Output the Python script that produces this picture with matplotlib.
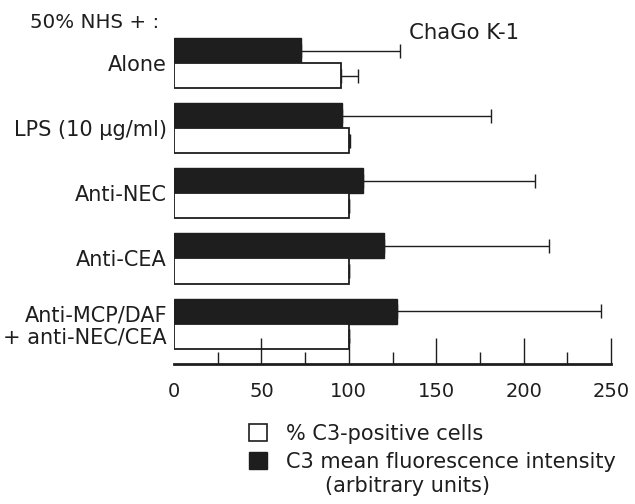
import numpy as np
import matplotlib.pyplot as plt
from matplotlib.patches import Patch

# values
categories = ['Alone', 'LPS (10 μg/ml)', 'Anti-NEC', 'Anti-CEA',
              'Anti-MCP/DAF\n+ anti-NEC/CEA']
pct_pos = [95.6, 100, 100, 100, 100]          # % C3-positive cells
pct_err = [9.5, 0.7, 0, 0, 0]
mfi = [72.9, 96.3, 108.3, 120.4, 127.8]       # C3 mean fluorescence intensity
mfi_err = [56.3, 85.0, 98.2, 94.0, 116.6]
major_ticks = [0, 50, 100, 150, 200, 250]
minor_ticks = [25, 75, 125, 175, 225]

ink = '#1e1e1e'
W, H = 635, 504

fig = plt.figure(figsize=(W / 100, H / 100), dpi=100)
ax = fig.add_axes([174 / W, 1 - 364 / H, (611 - 174) / W, (364 - 30.5) / H])

y = np.arange(len(categories))
h = 0.385

ax.barh(y - h / 2, mfi, height=h, color=ink, edgecolor=ink, linewidth=1)
ax.barh(y + h / 2, pct_pos, height=h, color='white', edgecolor=ink, linewidth=1.3)

zeros = np.zeros(len(y))
ax.errorbar(mfi, y - h / 2, xerr=[zeros, mfi_err], fmt='none', ecolor=ink,
            elinewidth=1, capsize=5, capthick=1)
ax.errorbar(pct_pos, y + h / 2, xerr=[zeros, pct_err], fmt='none', ecolor=ink,
            elinewidth=1, capsize=5, capthick=1)

ax.set_xlim(0, 250)
ax.set_ylim(4.62, -0.5)

for s in ['top', 'right', 'left']:
    ax.spines[s].set_visible(False)
ax.spines['bottom'].set_linewidth(2)
ax.spines['bottom'].set_color(ink)

ax.set_xticks(major_ticks)
ax.set_xticks(minor_ticks, minor=True)
ax.tick_params(axis='x', which='major', direction='in', length=19, width=1,
               color=ink, labelsize=14, pad=13, labelcolor=ink)
ax.tick_params(axis='x', which='minor', direction='in', length=9, width=1,
               color=ink)
ax.xaxis.get_major_ticks()[0].tick1line.set_visible(False)

ax.set_yticks(y)
ax.set_yticklabels(categories, fontsize=15, color=ink, linespacing=1.1)
ax.tick_params(axis='y', length=0, pad=5)

fig.text(30 / W, 1 - 23 / H, '50% NHS + :', fontsize=14.3, color=ink, va='center')
fig.text(409 / W, 1 - 33 / H, 'ChaGo K-1', fontsize=15.3, color=ink, va='center')

handles = [Patch(facecolor='white', edgecolor=ink, linewidth=1.2),
           Patch(facecolor=ink, edgecolor=ink)]
labels = ['% C3-positive cells', 'C3 mean fluorescence intensity']
fig.legend(handles, labels, loc='upper left',
           bbox_to_anchor=(249 / W, 1 - 424 / H), frameon=False,
           fontsize=15, handlelength=0.85, handleheight=0.85,
           handletextpad=0.95, labelspacing=0.36, borderpad=0,
           borderaxespad=0, labelcolor=ink)
fig.text(325 / W, 1 - 486 / H, '(arbitrary units)', fontsize=15,
         color=ink, va='center')

fig.savefig('out.png', dpi=100)
